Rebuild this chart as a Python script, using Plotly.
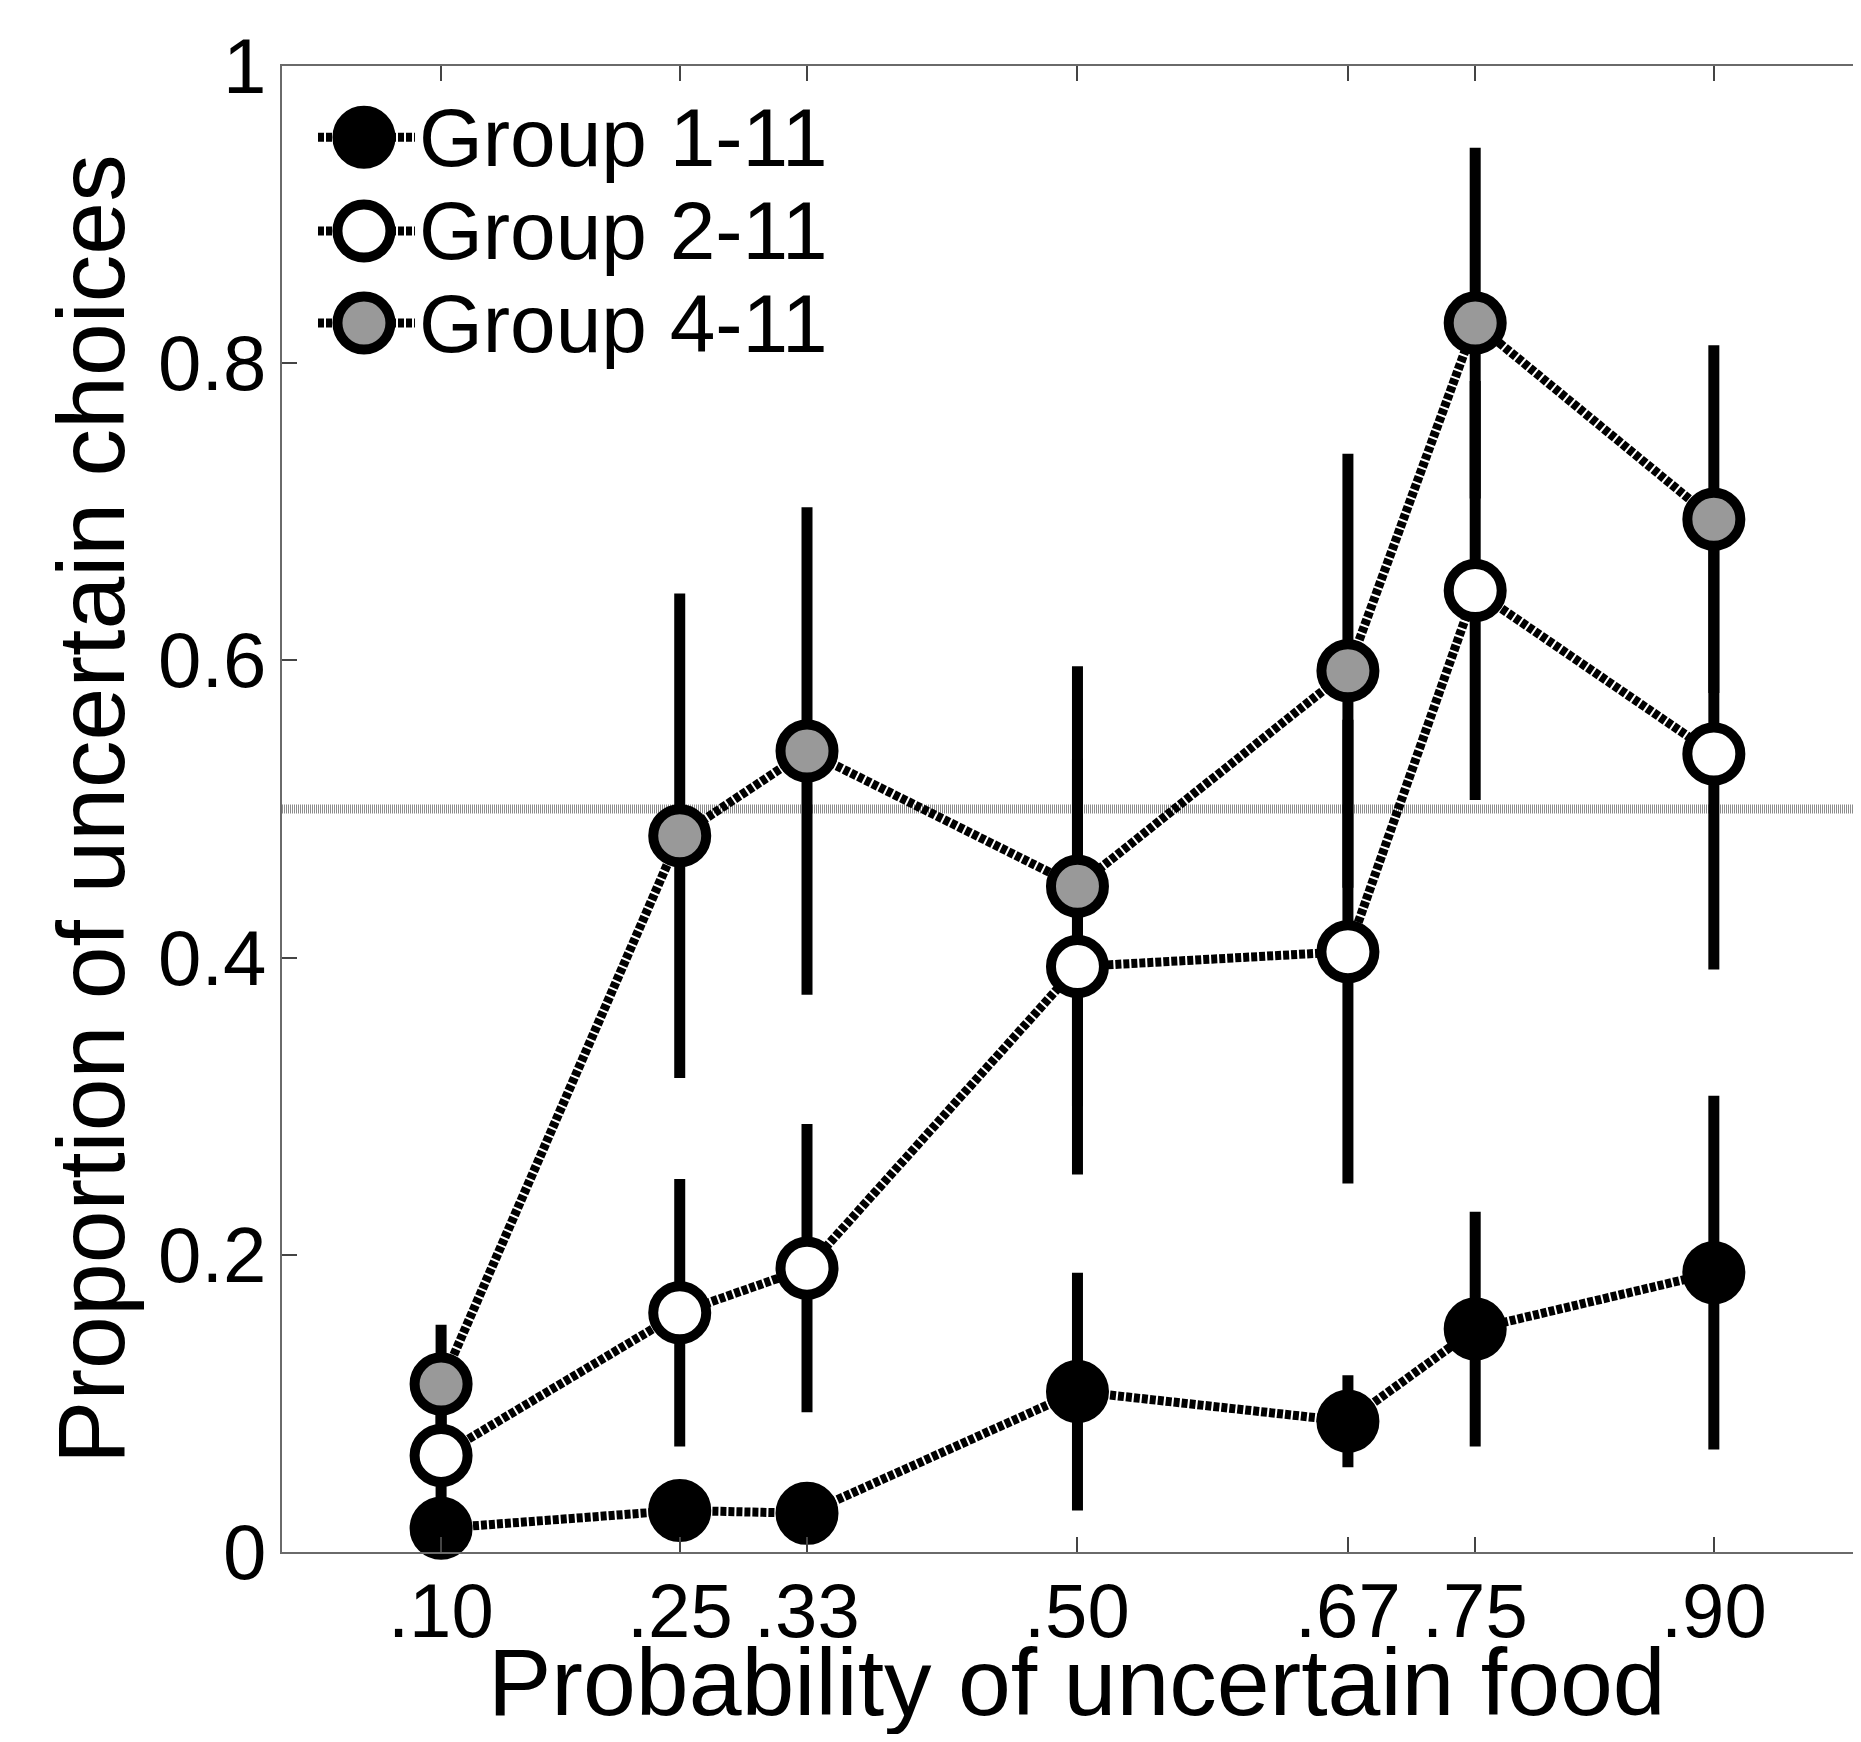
import plotly.graph_objects as go

# ---------------- data ----------------
prob = [0.10, 0.25, 0.33, 0.50, 0.67, 0.75, 0.90]
prob_labels = [".10", ".25", ".33", ".50", ".67", ".75", ".90"]

group1 = [0.016, 0.028, 0.026, 0.108, 0.088, 0.150, 0.188]
group1_err = [0.015, 0.010, 0.010, 0.080, 0.031, 0.079, 0.119]

group2 = [0.065, 0.161, 0.191, 0.394, 0.404, 0.647, 0.537]
group2_err = [0.040, 0.090, 0.097, 0.140, 0.156, 0.141, 0.145]

group4 = [0.113, 0.482, 0.539, 0.448, 0.593, 0.827, 0.695]
group4_err = [0.040, 0.163, 0.164, 0.148, 0.146, 0.118, 0.117]

series_names = ["Group 1-11", "Group 2-11", "Group 4-11"]
y_ticks = [0, 0.2, 0.4, 0.6, 0.8, 1]
y_tick_labels = ["0", "0.2", "0.4", "0.6", "0.8", "1"]
chance_level = 0.5

# ---------------- style ----------------
FONT = "Liberation Sans, Arial, Helvetica, sans-serif"
DASH = "6px,2px"
LINE_W = 9
series = [
    (group1, group1_err, dict(size=61, color="black", line=dict(color="black", width=2))),
    (group2, group2_err, dict(size=53, color="white", line=dict(color="black", width=10))),
    (group4, group4_err, dict(size=53, color="#999999", line=dict(color="black", width=10))),
]

fig = go.Figure()

# error bars first (beneath everything)
for y, err, mk in series:
    fig.add_trace(go.Scatter(
        x=prob, y=y, mode="markers",
        marker=dict(size=1, opacity=0),
        error_y=dict(type="data", array=err, color="black", thickness=11, width=0),
        showlegend=False, hoverinfo="skip", cliponaxis=False))

# dotted connecting lines
for y, err, mk in series:
    fig.add_trace(go.Scatter(
        x=prob, y=y, mode="lines",
        line=dict(color="black", width=LINE_W, dash=DASH),
        showlegend=False, hoverinfo="skip", cliponaxis=False))

# markers
for (y, err, mk), name in zip(series, series_names):
    fig.add_trace(go.Scatter(
        x=prob, y=y, mode="markers", marker=mk, name=name,
        showlegend=False, cliponaxis=False))

# manual legend (on overlay axes spanning [0,1])
leg_rows = [0.952, 0.889, 0.827]
leg_x_line = [0.0228, 0.0842]
leg_x_marker = 0.0519
leg_x_text = 0.0855
for (y, err, mk), name, ry in zip(series, series_names, leg_rows):
    fig.add_trace(go.Scatter(
        x=leg_x_line, y=[ry, ry], xaxis="x2", yaxis="y2", mode="lines",
        line=dict(color="black", width=LINE_W, dash=DASH),
        showlegend=False, hoverinfo="skip", cliponaxis=False))
    fig.add_trace(go.Scatter(
        x=[leg_x_marker], y=[ry], xaxis="x2", yaxis="y2", mode="markers",
        marker=mk, showlegend=False, hoverinfo="skip", cliponaxis=False))
    fig.add_annotation(
        x=leg_x_text, y=ry, xref="x2", yref="y2", text=name, showarrow=False,
        xanchor="left", yanchor="middle",
        font=dict(family=FONT, size=82, color="black"))

# chance line at 0.5
fig.add_shape(type="line", xref="paper", x0=0, x1=1, yref="y", y0=chance_level, y1=chance_level,
              line=dict(color="#8c8c8c", width=9, dash="1px,1px"), layer="below")

# tick labels as text
for xv, lab in zip(prob, prob_labels):
    fig.add_annotation(x=xv, xref="x", y=-0.0393, yref="paper", text=lab, showarrow=False,
                       xanchor="center", yanchor="middle",
                       font=dict(family=FONT, size=76, color="black"))
for yv, lab in zip(y_ticks, y_tick_labels):
    fig.add_annotation(x=-0.0089, xref="paper", y=yv, yref="y", text=lab, showarrow=False,
                       xanchor="right", yanchor="middle",
                       font=dict(family=FONT, size=78, color="black"))

# axis titles
fig.add_annotation(
    x=0.5, xref="x", y=-0.0875, yref="paper", text="Probability of uncertain food",
    showarrow=False, xanchor="center", yanchor="middle",
    font=dict(family=FONT, size=95, color="black"))
fig.add_annotation(
    x=-0.121, xref="paper", y=0.5, yref="paper", text="Proportion of uncertain choices",
    showarrow=False, textangle=-90, xanchor="center", yanchor="middle",
    font=dict(family=FONT, size=95, color="black"))

axis_line = "#6a6a6a"
fig.update_layout(
    width=1853, height=1726,
    margin=dict(l=274, r=0, t=58, b=182),
    paper_bgcolor="white", plot_bgcolor="white",
    showlegend=False,
    font=dict(family=FONT, color="black"),
    xaxis=dict(
        range=[0, 0.9925], tickvals=prob, showticklabels=False,
        ticks="inside", ticklen=15, tickwidth=1.5, tickcolor="#444444",
        showline=True, linecolor=axis_line, linewidth=2, mirror="ticks",
        showgrid=False, zeroline=False),
    yaxis=dict(
        range=[0, 1], tickvals=y_ticks, showticklabels=False,
        ticks="inside", ticklen=15, tickwidth=1.5, tickcolor="#444444",
        showline=True, linecolor=axis_line, linewidth=2, mirror=False,
        showgrid=False, zeroline=False),
    xaxis2=dict(range=[0, 1], overlaying="x", anchor="y", visible=False),
    yaxis2=dict(
        range=[0, 1], overlaying="y", anchor="x", side="right",
        tickvals=y_ticks, ticks="inside", ticklen=5, tickwidth=1.5, tickcolor="#444444",
        showticklabels=False, showline=False, showgrid=False, zeroline=False),
)

fig.write_html("out.html")
